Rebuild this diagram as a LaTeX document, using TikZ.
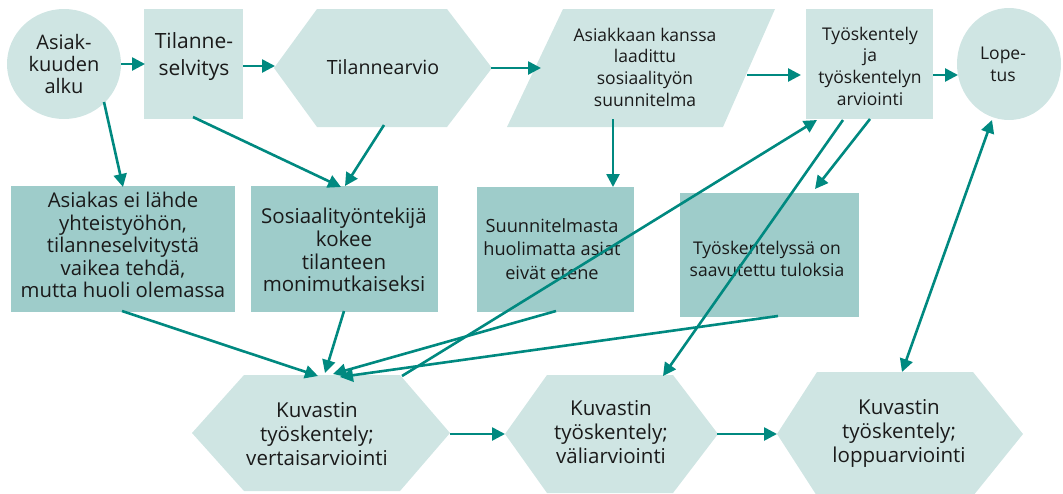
\documentclass[tikz,border=0pt]{standalone}
\usepackage{fontspec}
\setmainfont{Open Sans}
\usetikzlibrary{arrows.meta}
\definecolor{tealA}{RGB}{0,137,128}
\definecolor{lightfill}{RGB}{207,229,227}
\definecolor{midfill}{RGB}{158,204,202}
\definecolor{txt}{RGB}{26,26,26}
\begin{document}
\begin{tikzpicture}[x=1pt,y=-1pt,
  arr/.style={draw=tealA, line width=2.6pt, -{Triangle[length=13pt,width=13pt]}},
  dblarr/.style={draw=tealA, line width=2.6pt, {Triangle[length=13pt,width=13pt]}-{Triangle[length=13pt,width=13pt]}},
  lbl/.style 2 args={text=txt, font=\fontsize{#1}{#2}\selectfont, align=center, inner sep=0pt},
  light/.style={fill=lightfill},
  mid/.style={fill=midfill}]
\useasboundingbox (0,0) rectangle (1063,493);

% top row shapes
\fill[light] (64,64) ellipse [x radius=57, y radius=55];
\fill[light] (144,9) rectangle (243,119);
\fill[light] (274,68) -- (317,9) -- (447,9) -- (492,68) -- (447,127) -- (317,127) -- cycle;
\fill[light] (563,9) -- (775,9) -- (723,127) -- (507,127) -- cycle;
\fill[light] (806,9) rectangle (933,119);
\fill[light] (1009,64) ellipse [x radius=52, y radius=56];

% middle row shapes
\fill[mid] (11,186) rectangle (235,312);
\fill[mid] (251,186) rectangle (438,312);
\fill[mid] (477,187) rectangle (634,312);
\fill[mid] (680,193) rectangle (859,317);

% bottom row shapes
\fill[light] (192,433) -- (244,375) -- (400,375) -- (450,433) -- (400,491) -- (244,491) -- cycle;
\fill[light] (505,434) -- (547,375) -- (673,375) -- (718,434) -- (673,493) -- (547,493) -- cycle;
\fill[light] (777,434) -- (817,372) -- (973,372) -- (1023,434) -- (973,496) -- (817,496) -- cycle;

% texts
\node[lbl={20}{22}] (alku) at (64,64) {Asiak-\\kuuden\\alku};
\node[lbl={21}{27}] (selv) at (194,57) {Tilanne-\\selvitys};
\node[lbl={19.6}{22}] (arvio) at (383,67) {Tilannearvio};
\node[lbl={17.5}{21.7}] (suun) at (645,67) {Asiakkaan kanssa\\laadittu\\sosiaalityön\\suunnitelma};
\node[lbl={17.5}{21.7}] (tyo) at (870,66) {Työskentely\\ja\\työskentelyn\\arviointi};
\node[lbl={17.5}{21.7}] (lop) at (1003,64) {Lope-\\tus};
\node[lbl={20.3}{22.5}] (boxA) at (123,245) {Asiakas ei lähde\\yhteistyöhön,\\tilanneselvitystä\\vaikea tehdä,\\mutta huoli olemassa};
\node[lbl={20.5}{22.8}] (boxB) at (344,250) {Sosiaalityöntekijä\\kokee\\tilanteen\\monimutkaiseksi};
\node[lbl={18.2}{23.5}] (boxC) at (552,249) {Suunnitelmasta\\huolimatta asiat\\eivät etene};
\node[lbl={17.5}{22}] (boxD) at (767,259) {Työskentelyssä on\\saavutettu tuloksia};
\node[lbl={20.5}{24}] (hexA) at (317,434) {Kuvastin\\työskentely;\\vertaisarviointi};
\node[lbl={20.5}{24}] (hexB) at (611,432) {Kuvastin\\työskentely;\\väliarviointi};
\node[lbl={20.5}{24}] (hexC) at (899,433) {Kuvastin\\työskentely;\\loppuarviointi};

% connector end points
\coordinate (alkuE) at (121,64);  \coordinate (selvW) at (145,64);
\coordinate (selvE) at (243,66);  \coordinate (arvioW) at (275,66);
\coordinate (arvioE) at (491,68); \coordinate (suunW) at (541,68);
\coordinate (suunE) at (747,75);  \coordinate (tyoW) at (801,75);
\coordinate (tyoE) at (933,75);   \coordinate (lopW) at (958,75);
\coordinate (alkuS) at (104,102); \coordinate (boxAN) at (123,187);
\coordinate (selvS) at (193,117); \coordinate (boxBN1) at (341,187);
\coordinate (arvioS) at (384,125); \coordinate (boxBN2) at (345,186);
\coordinate (suunS) at (613,119); \coordinate (boxCN) at (613,187);
\coordinate (tyoS1) at (870,119); \coordinate (boxDN) at (815,189);
\coordinate (tyoS2) at (843,120); \coordinate (hexBN) at (663,376);
\coordinate (hexANE) at (402,376); \coordinate (tyoSW) at (817,120);
\coordinate (boxAS) at (122,311); \coordinate (hexAN1) at (318,376);
\coordinate (boxBS) at (344,311); \coordinate (hexAN2) at (325,373);
\coordinate (boxCS) at (556,311); \coordinate (hexAN3) at (333,374);
\coordinate (boxDS) at (778,316); \coordinate (hexAN4) at (340,377);
\coordinate (lopS) at (992,120);  \coordinate (hexCN) at (902,372);
\coordinate (hexAE) at (450,434); \coordinate (hexBW) at (505,434);
\coordinate (hexBE) at (717,434); \coordinate (hexCW) at (777,434);

% connectors
\draw[arr] (alkuE) -- (selvW);
\draw[arr] (selvE) -- (arvioW);
\draw[arr] (arvioE) -- (suunW);
\draw[arr] (suunE) -- (tyoW);
\draw[arr] (tyoE) -- (lopW);
\draw[arr] (alkuS) -- (boxAN);
\draw[arr] (selvS) -- (boxBN1);
\draw[arr] (arvioS) -- (boxBN2);
\draw[arr] (suunS) -- (boxCN);
\draw[arr] (tyoS1) -- (boxDN);
\draw[arr] (tyoS2) -- (hexBN);
\draw[arr] (hexANE) -- (tyoSW);
\draw[arr] (boxAS) -- (hexAN1);
\draw[arr] (boxBS) -- (hexAN2);
\draw[arr] (boxCS) -- (hexAN3);
\draw[arr] (boxDS) -- (hexAN4);
\draw[dblarr] (lopS) -- (hexCN);
\draw[arr] (hexAE) -- (hexBW);
\draw[arr] (hexBE) -- (hexCW);
\end{tikzpicture}
\end{document}
